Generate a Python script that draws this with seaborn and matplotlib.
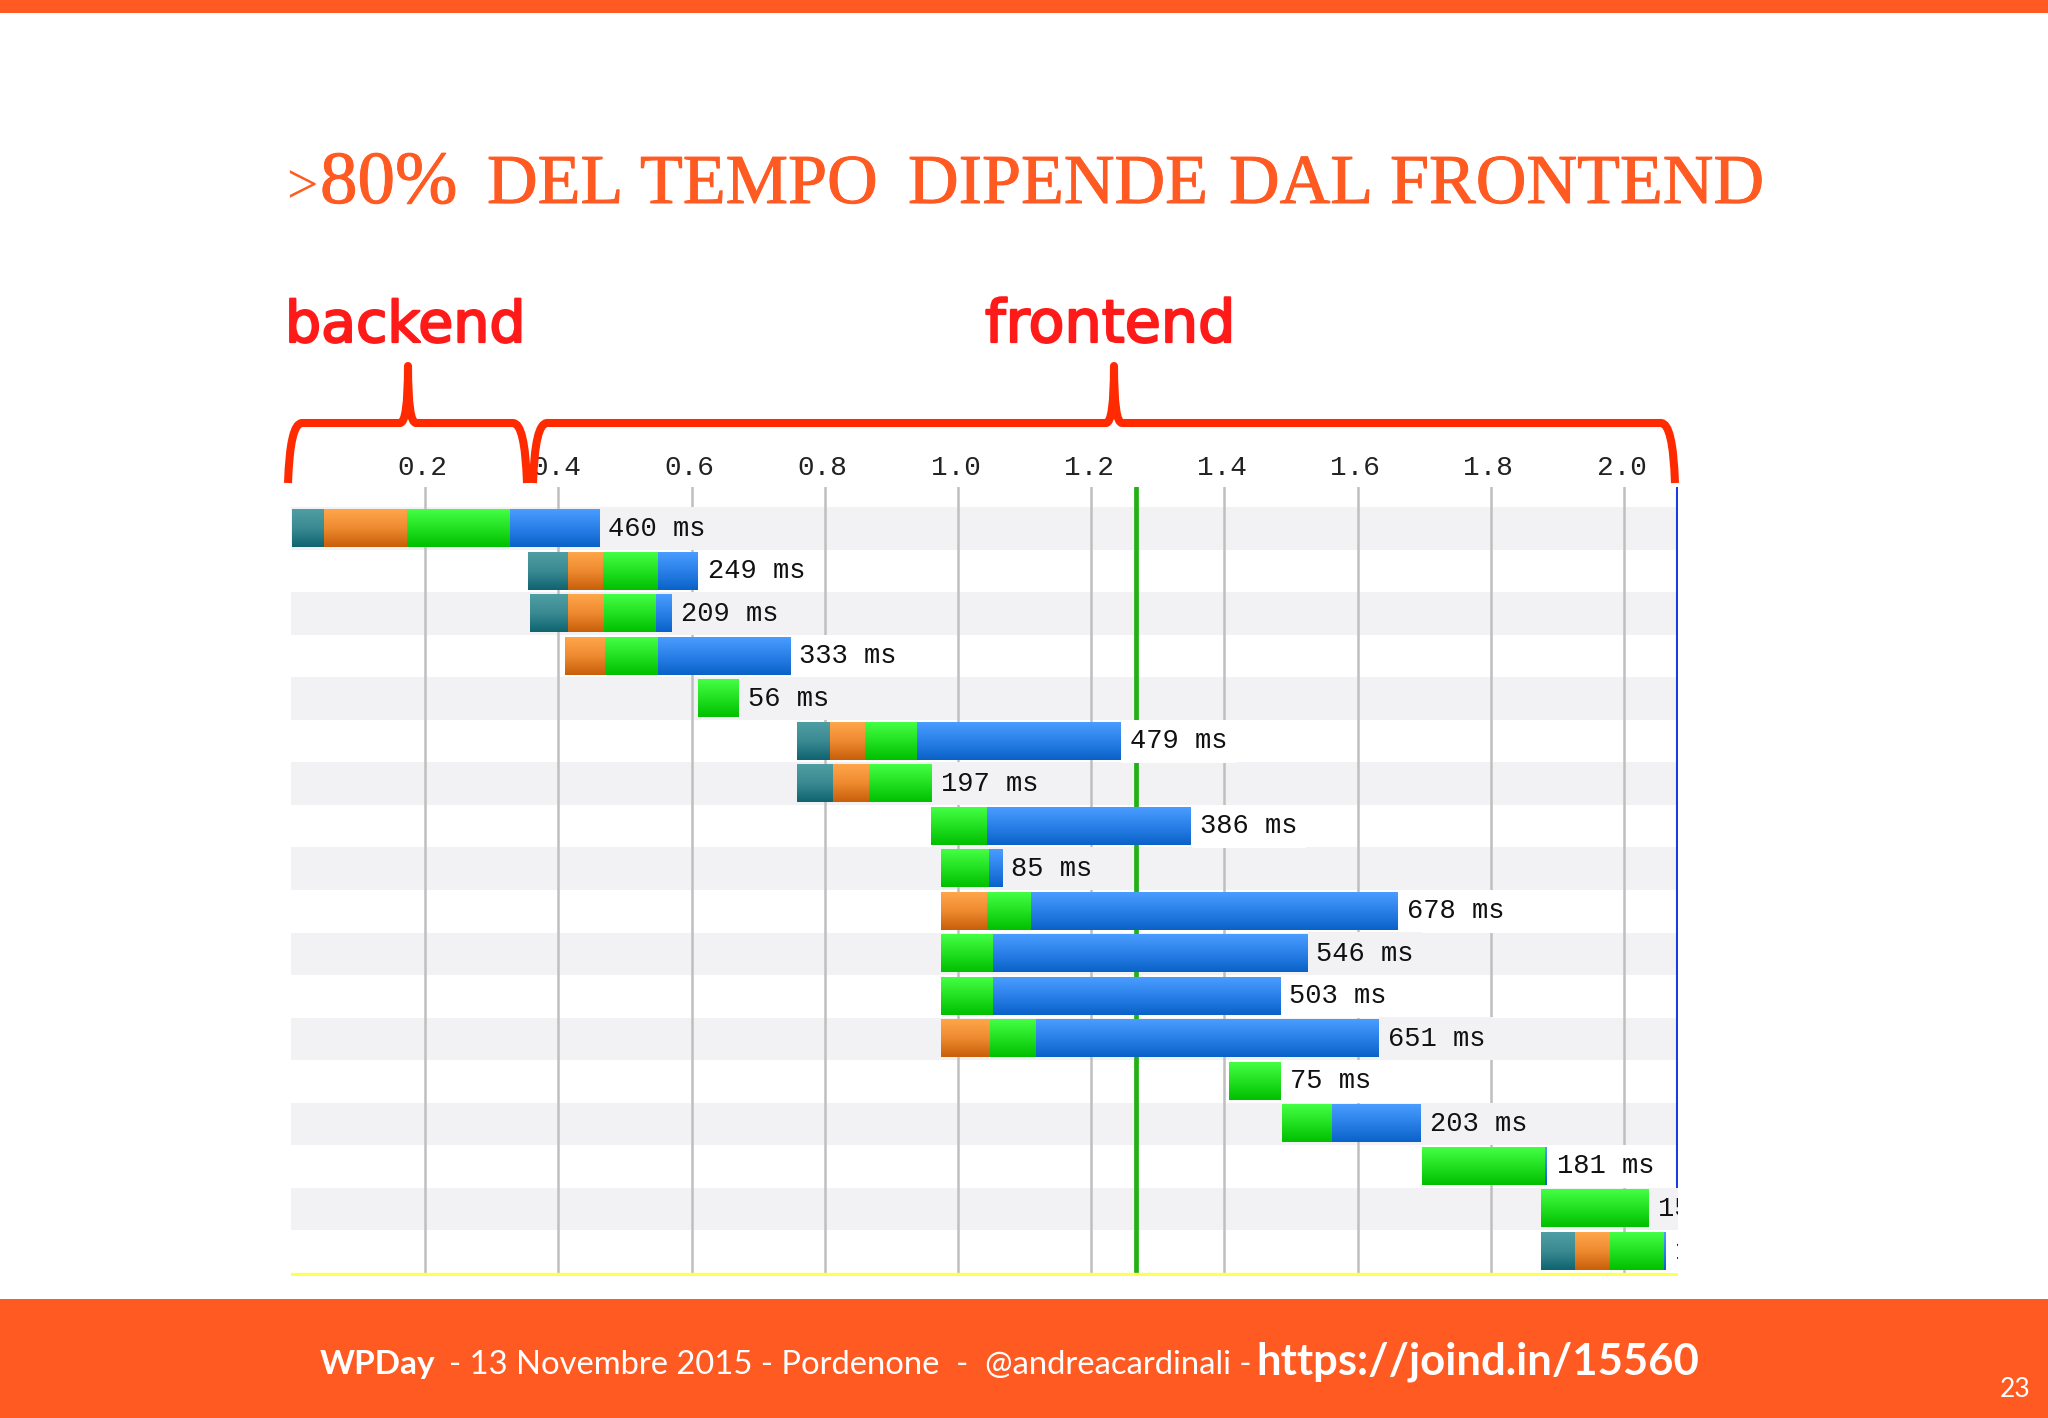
import numpy as np
import matplotlib
matplotlib.use("Agg")
import matplotlib.pyplot as plt
import matplotlib.patheffects as pe
from matplotlib.colors import LinearSegmentedColormap
from matplotlib.patches import PathPatch, Rectangle
from matplotlib.path import Path
from matplotlib.transforms import ScaledTranslation
import seaborn as sns

# ---- data (times in milliseconds) ----
rows = list(range(18))
start = [0, 354, 358, 410, 610, 759, 759, 959, 975, 975, 975, 975, 975, 1407, 1487, 1696, 1875, 1875]
dns = [48, 60, 57, 0, 0, 49, 53, 0, 0, 0, 0, 0, 0, 0, 0, 0, 0, 51]
connect = [125, 53, 53, 60, 0, 53, 55, 0, 0, 69, 0, 0, 73, 0, 0, 0, 0, 53]
ttfb = [154, 83, 78, 79, 61, 77, 94, 85, 71, 65, 77, 77, 69, 77, 75, 186, 162, 81]
download = [134, 60, 24, 199, 0, 306, 0, 306, 20, 551, 472, 431, 514, 0, 133, 3, 0, 3]
labels = ["460 ms", "249 ms", "209 ms", "333 ms", "56 ms", "479 ms", "197 ms", "386 ms", "85 ms",
          "678 ms", "546 ms", "503 ms", "651 ms", "75 ms", "203 ms", "181 ms", "159 ms", "188 ms"]
tick_values = [0.2, 0.4, 0.6, 0.8, 1.0, 1.2, 1.4, 1.6, 1.8, 2.0]
doc_complete = 1267
fully_loaded = 2080
title_words = ["DEL", "TEMPO", "DIPENDE", "DAL", "FRONTEND"]

ORANGE = "#ff5a22"
BAND = "#f2f1f3"
W, H = 2048, 1418
sns.set_theme(style="white")
plt.rcParams["font.family"] = ["Liberation Mono", "DejaVu Sans"]

fig = plt.figure(figsize=(W / 100, H / 100), dpi=100, facecolor="white")

# chart axes
L, R, T, B = 291, 1678, 487, 1276
ax = fig.add_axes([L / W, 1 - B / H, (R - L) / W, (B - T) / H], zorder=1)
ax.set_facecolor("white")

for r in rows[::2]:
    ax.axhspan(r - 0.5, r + 0.5, color=BAND, lw=0, zorder=0)
for t in tick_values:
    ax.axvline(t * 1000, color="#bfbfbf", lw=1.8, zorder=1)
ax.axvline(doc_complete, color="#22b014", lw=3.4, zorder=1.5)
ax.axvline(fully_loaded, color="#1a3ce0", lw=2.2, zorder=1.5)

phases = [
    (dns, "#2f868e", ["#4f9ea3", "#3a8a92", "#0f6470"]),
    (connect, "#e8842c", ["#ffa64a", "#ee8a30", "#c85f0a"]),
    (ttfb, "#22e022", ["#44ff44", "#22e022", "#00c000"]),
    (download, "#2a80e8", ["#4a9dff", "#2a80e8", "#0a62c8"]),
]
left = np.array(start, dtype=float)
grad = np.linspace(0, 1, 64).reshape(-1, 1)
for values, base, stops in phases:
    n0 = len(ax.patches)
    sns.barplot(x=np.array(values, dtype=float), y=rows, orient="y", native_scale=True,
                color=base, saturation=1, width=0.87, errorbar=None, linewidth=0,
                left=left.copy(), ax=ax, zorder=3)
    cmap = LinearSegmentedColormap.from_list("g", stops)
    for p in ax.patches[n0:]:
        if p.get_width() > 0:
            x0, x1 = p.get_x(), p.get_x() + p.get_width()
            y0, y1 = p.get_y(), p.get_y() + p.get_height()
            ax.imshow(grad, extent=[x0, x1, y1, y0], aspect="auto", cmap=cmap,
                      vmin=0, vmax=1, zorder=4, interpolation="bilinear")
    left = left + np.array(values, dtype=float)

for r, e, lab in zip(rows, left, labels):
    ax.text(e + 14, r, lab, va="center", ha="left", fontsize=19.5, color="#111111",
            family=["Liberation Mono", "DejaVu Sans"], clip_on=True, zorder=3,
            bbox=dict(facecolor=BAND if r % 2 == 0 else "white", edgecolor="none", pad=6))

ax.set_xlim((L - 292) / 0.666, (R - 292) / 0.666)
ax.set_ylim((B - 528.5) / 42.53, (T - 528.5) / 42.53)
ax.set_xticks([t * 1000 for t in tick_values])
ax.set_xticklabels([f"{t:.1f}" for t in tick_values], fontsize=20, color="#222222")
ax.xaxis.tick_top()
ax.tick_params(axis="x", length=0, pad=4.5)
shift = ScaledTranslation(-2.5 / 100, 0, fig.dpi_scale_trans)
for lab in ax.get_xticklabels():
    lab.set_transform(lab.get_transform() + shift)
ax.set_yticks([])
ax.set_xlabel("")
ax.set_ylabel("")
for s in ax.spines.values():
    s.set_visible(False)
ax.axhline((1274 - 528.5) / 42.53, color="#ffff55", lw=2.4, zorder=2)

# slide overlay in pixel coordinates
ov = fig.add_axes([0, 0, 1, 1], zorder=5)
ov.set_xlim(0, W)
ov.set_ylim(H, 0)
ov.axis("off")
ov.patch.set_alpha(0)
ov.add_patch(Rectangle((0, 0), W, 13, color=ORANGE, lw=0))
ov.add_patch(Rectangle((0, 1299), W, H - 1299, color=ORANGE, lw=0))

thick = [pe.withStroke(linewidth=0.7, foreground=ORANGE)]
ov.text(286, 203, ">", fontsize=40, color=ORANGE, family="Liberation Serif", va="baseline")
ov.text(320, 203, "80%", fontsize=54, color=ORANGE, family="Liberation Serif", va="baseline",
        path_effects=thick)
for word, x in zip(title_words, [487, 640, 908, 1229, 1390]):
    ov.text(x, 203, word, fontsize=50.5, color=ORANGE, family="Liberation Serif", va="baseline",
            path_effects=thick)

red = [pe.withStroke(linewidth=1.6, foreground="#ff1a1a")]
ov.text(285, 342, "backend", fontsize=41, color="#ff1a1a", family="DejaVu Sans", va="baseline", path_effects=red)
ov.text(985, 342, "frontend", fontsize=42.3, color="#ff1a1a", family="DejaVu Sans", va="baseline", path_effects=red)

M, C, LN = Path.MOVETO, Path.CURVE3, Path.LINETO
def brace(x0, x1, xm):
    y0, y1, y2 = 483, 423, 366
    verts = [(x0, y0), (x0 + 2, y1), (x0 + 14, y1), (xm - 8, y1), (xm, y1), (xm, y2),
             (xm, y1), (xm + 8, y1), (x1 - 14, y1), (x1 - 2, y1), (x1, y0)]
    codes = [M, C, C, LN, C, C, C, C, LN, C, C]
    return PathPatch(Path(verts, codes), fc="none", ec="#ff2a00", lw=5.8, capstyle="butt", joinstyle="round")
ov.add_patch(brace(288, 527, 408))
ov.add_patch(brace(533, 1675, 1114))

ov.text(320, 1374, "WPDay", fontsize=24, color="white", family="Lato", weight="bold", va="baseline")
ov.text(449, 1374, "- 13 Novembre 2015 - Pordenone  -  @andreacardinali -", fontsize=23.6, color="white",
        family="Lato", va="baseline")
ov.text(1256, 1375, "https://joind.in/15560", fontsize=31.4, color="white", family="Lato", weight="bold",
        va="baseline")
ov.text(2000, 1397, "23", fontsize=19, color="white", family="Lato", va="baseline")

fig.savefig("out.png", dpi=100, facecolor="white")
